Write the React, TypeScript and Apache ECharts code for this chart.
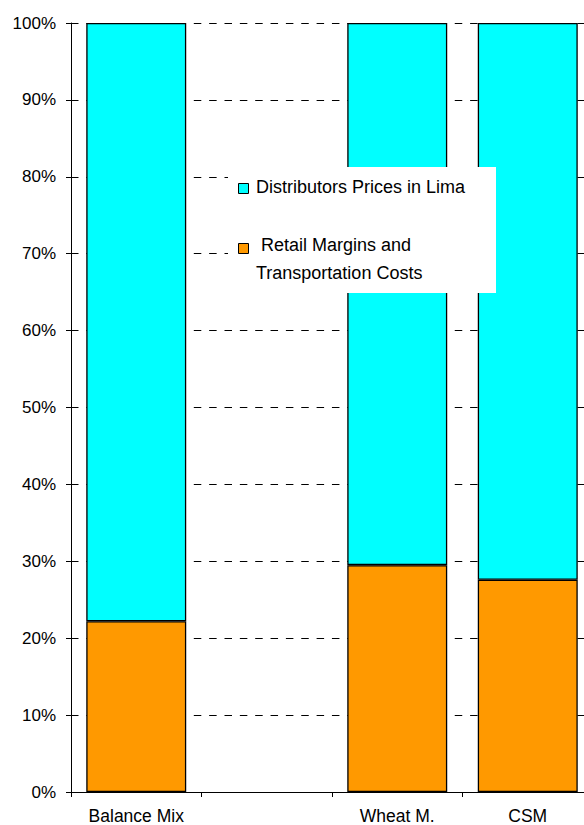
import React, { useEffect, useRef } from "react";
import * as echarts from "echarts";

const categories = ["Balance Mix", "", "Wheat M.", "CSM"];
const retailMargins = [22.2, null, 29.5, 27.6];
const distributorsPrices = [77.8, null, 70.5, 72.4];
const legendNames = ["Distributors Prices in Lima", " Retail Margins and", "Transportation Costs"];

const FONT = "'Liberation Sans', Arial, sans-serif";

export default function App() {
  const ref = useRef<HTMLDivElement>(null);
  useEffect(() => {
    document.body.style.margin = "0";
    const chart = echarts.init(ref.current!, null, { renderer: "svg" });
    chart.setOption({
      animation: false,
      backgroundColor: "#fff",
      grid: { left: 71, top: 23, width: 522, height: 769, containLabel: false },
      xAxis: {
        type: "category",
        data: categories,
        axisLine: { show: true, lineStyle: { color: "#000", width: 1 } },
        axisTick: { show: true, length: 5, alignWithLabel: false, interval: 0, lineStyle: { color: "#000" } },
        axisLabel: { interval: 0, margin: 15, fontSize: 17.5, color: "#000", fontFamily: FONT },
        splitLine: { show: false },
      },
      yAxis: {
        type: "value",
        min: 0,
        max: 100,
        interval: 10,
        axisLine: { show: true, lineStyle: { color: "#000", width: 1 } },
        axisTick: { show: true, length: 5, lineStyle: { color: "#000" } },
        axisLabel: { formatter: "{value}%", margin: 15, fontSize: 17, color: "#000", fontFamily: FONT },
        splitLine: { show: true, lineStyle: { color: "#000", width: 1, type: [7.5, 7.85] } },
      },
      series: [
        {
          name: "Retail Margins and Transportation Costs",
          type: "bar",
          stack: "total",
          barWidth: "76.6%",
          data: retailMargins,
          itemStyle: { color: "#FF9900", borderColor: "#000", borderWidth: 1.3 },
        },
        {
          name: "Distributors Prices in Lima",
          type: "bar",
          stack: "total",
          barWidth: "76.6%",
          data: distributorsPrices,
          itemStyle: { color: "#00FFFF", borderColor: "#000", borderWidth: 1.3 },
        },
      ],
      graphic: [
        { type: "rect", z: 100, shape: { x: 228, y: 167, width: 268, height: 126 }, style: { fill: "#fff" } },
        { type: "rect", z: 101, shape: { x: 238.5, y: 183.5, width: 10, height: 10 }, style: { fill: "#00FFFF", stroke: "#000", lineWidth: 1 } },
        { type: "text", z: 101, x: 256, y: 187, style: { text: legendNames[0], font: `18px ${FONT}`, fill: "#000", verticalAlign: "middle" } },
        { type: "rect", z: 101, shape: { x: 238.5, y: 243.5, width: 10, height: 10 }, style: { fill: "#FF9900", stroke: "#000", lineWidth: 1 } },
        { type: "text", z: 101, x: 256, y: 245, style: { text: legendNames[1], font: `18px ${FONT}`, fill: "#000", verticalAlign: "middle" } },
        { type: "text", z: 101, x: 256, y: 273, style: { text: legendNames[2], font: `18px ${FONT}`, fill: "#000", verticalAlign: "middle" } },
      ],
    });
    return () => chart.dispose();
  }, []);
  return (
    <div style={{ width: 584, height: 825, overflow: "hidden", position: "relative" }}>
      <div ref={ref} style={{ width: 600, height: 825 }} />
    </div>
  );
}
